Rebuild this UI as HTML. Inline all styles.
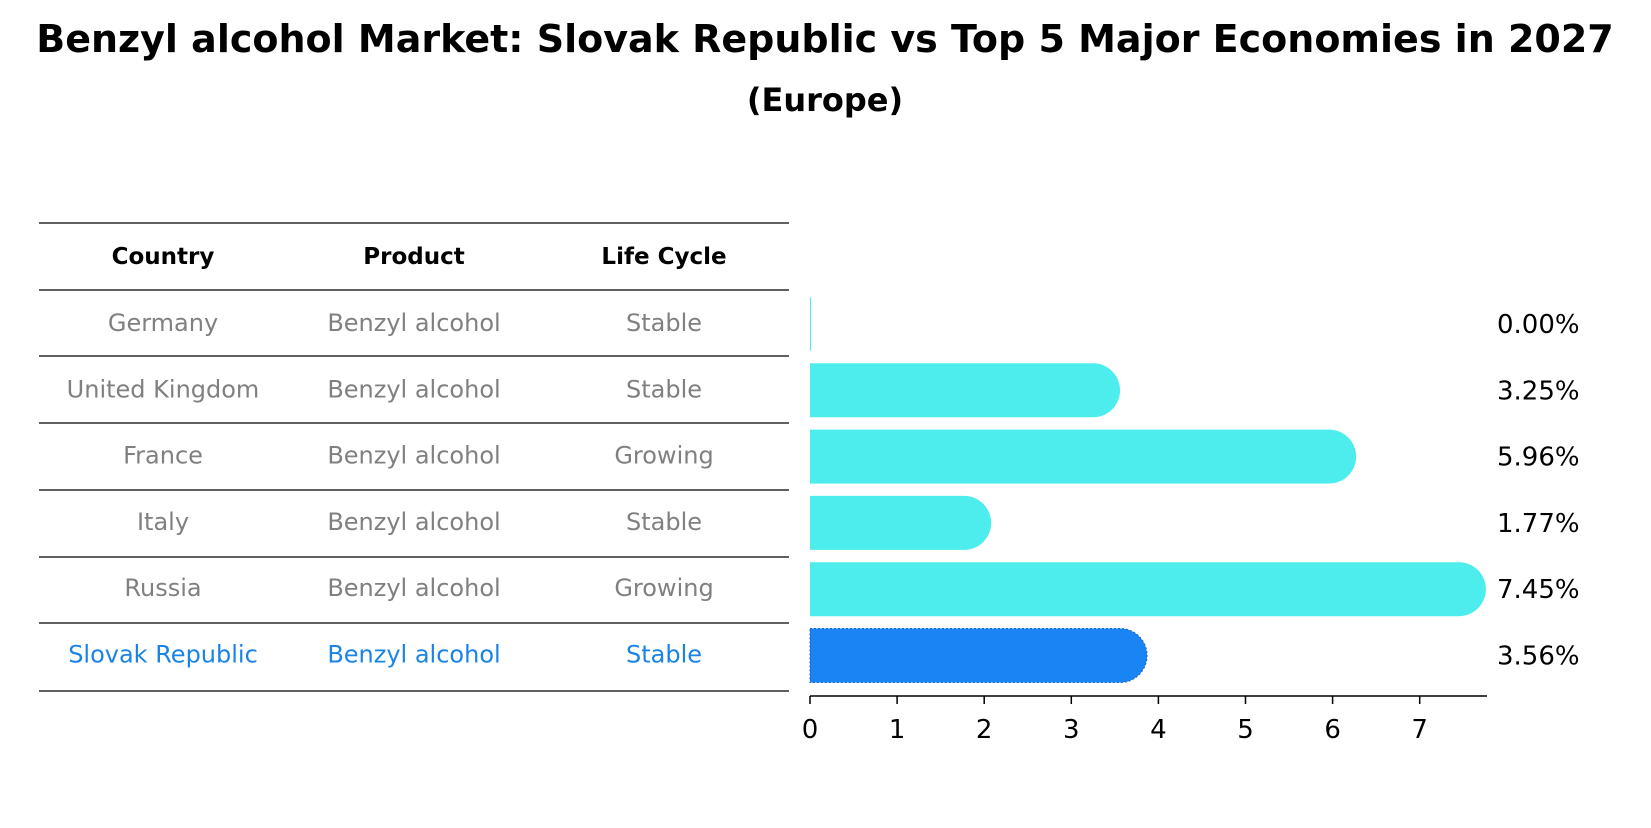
<!DOCTYPE html>
<html><head><meta charset="utf-8"><style>
body{margin:0;background:#fff;font-family:"Liberation Sans","DejaVu Sans",sans-serif}
</style></head><body>
<svg width="1651" height="823" xmlns="http://www.w3.org/2000/svg" font-family="DejaVu Sans, Liberation Sans, sans-serif">
<text x="825" y="52" text-anchor="middle" font-size="38" font-weight="bold">Benzyl alcohol Market: Slovak Republic vs Top 5 Major Economies in 2027</text>
<text x="825" y="111" text-anchor="middle" font-size="32" font-weight="bold">(Europe)</text>
<g id="table"></g>
<g id="bars"></g>
</svg>
<script>
const countries=["Germany","United Kingdom","France","Italy","Russia","Slovak Republic"];
const products=["Benzyl alcohol","Benzyl alcohol","Benzyl alcohol","Benzyl alcohol","Benzyl alcohol","Benzyl alcohol"];
const lifeCycles=["Stable","Stable","Growing","Stable","Growing","Stable"];
const values=[0.00,3.25,5.96,1.77,7.45,3.56];
const ticks=[0,1,2,3,4,5,6,7];
const NS="http://www.w3.org/2000/svg";
function mk(t,a,p){const e=document.createElementNS(NS,t);for(const k in a)e.setAttribute(k,a[k]);p.appendChild(e);return e;}
const tbl=document.getElementById('table'),bars=document.getElementById('bars');
const lineY=[223,290,356,423,490,557,623,691];
const colX=[163,414,664];
lineY.forEach(y=>{const l=mk('line',{x1:39,x2:789,y1:y,y2:y,stroke:'#000','stroke-width':1.2},tbl);

});
["Country","Product","Life Cycle"].forEach((h,i)=>{const t=mk('text',{x:colX[i],y:264,'text-anchor':'middle','font-size':23,'font-weight':'bold'},tbl);t.textContent=h;

});
const X=v=>810+v*87.1;
const rowY=i=>323+i*66.3;
countries.forEach((c,i)=>{const hl=i===countries.length-1;const col=hl?'#1a84e6':'#808080';
[c,products[i],lifeCycles[i]].forEach((s,j)=>{const t=mk('text',{x:colX[j],y:rowY(i)+8,'text-anchor':'middle','font-size':24,fill:col},tbl);t.textContent=s;

});
const cy=rowY(i)+1,h=54,r=27;const w=X(values[i])-X(0);
let b;
if(w<=0){b=mk('rect',{x:X(0),y:cy-h/2,width:1,height:h,fill:'#4deded'},bars);}
else{b=mk('path',{d:`M${X(0)},${cy-h/2} H${X(0)+w} A${r},${r} 0 0 1 ${X(0)+w},${cy+h/2} H${X(0)} Z`,fill:hl?'#1a84f5':'#4deded',stroke:hl?'#1266c0':'none','stroke-dasharray':hl?'2,2':'none','stroke-width':hl?1:0},bars);}


const t=mk('text',{x:1497,y:cy+9,'font-size':26},bars);t.textContent=values[i].toFixed(2)+'%';

});
const ax=mk('line',{x1:X(0),x2:1487,y1:696,y2:696,stroke:'#000','stroke-width':1.5},bars);


ticks.forEach(v=>{const l=mk('line',{x1:X(v),x2:X(v),y1:696,y2:704,stroke:'#000','stroke-width':1.5},bars);


const t=mk('text',{x:X(v),y:738,'text-anchor':'middle','font-size':26},bars);t.textContent=v;

});
</script>
</body></html>
